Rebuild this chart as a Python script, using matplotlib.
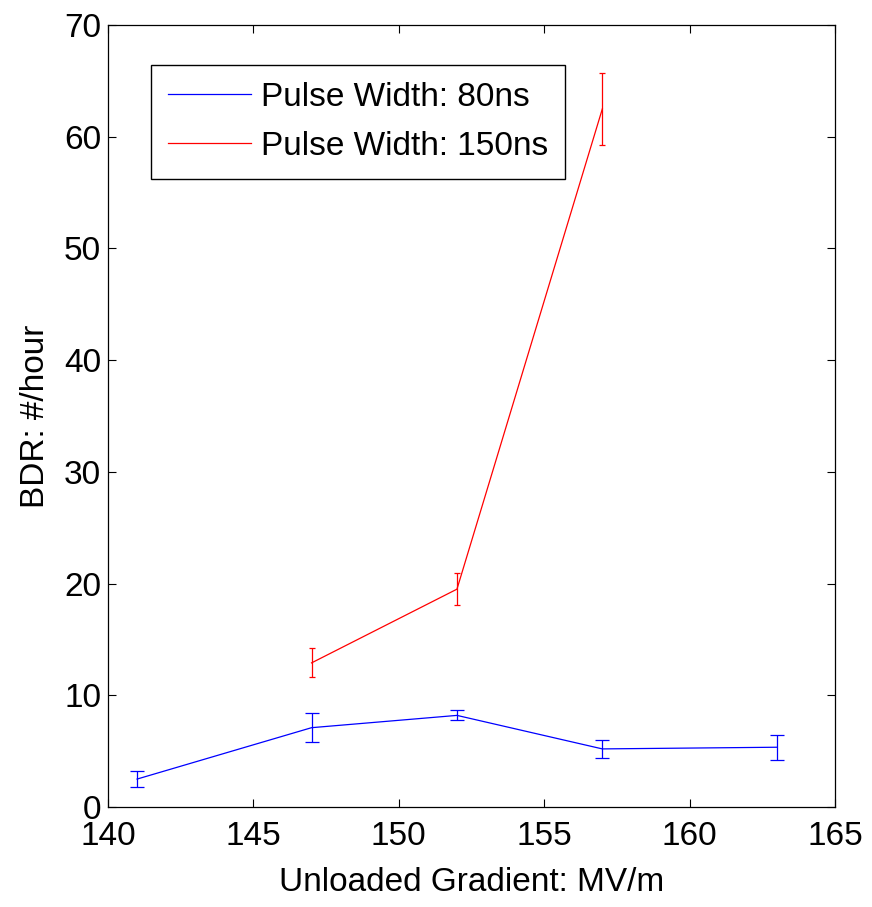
import matplotlib
matplotlib.use("Agg")
import matplotlib.pyplot as plt

# breakdown rate vs. unloaded gradient for two pulse widths
gradient_80 = [141, 147, 152, 157, 163]
bdr_80 = [2.5, 7.1, 8.2, 5.2, 5.35]
err_80 = [0.75, 1.3, 0.45, 0.8, 1.1]

gradient_150 = [147, 152, 157]
bdr_150 = [12.9, 19.5, 62.5]
err_150 = [1.3, 1.45, 3.2]

labels = ["Pulse Width: 80ns", "Pulse Width: 150ns"]

plt.rcParams["font.family"] = ["Liberation Sans", "DejaVu Sans"]
fs = 24

fig = plt.figure(figsize=(8.72, 9.07), dpi=100)
ax = fig.add_axes([108 / 872, 1 - 807 / 907, 727 / 872, 782 / 907])

ax.errorbar(gradient_80, bdr_80, yerr=err_80, color="blue", lw=0.9,
            elinewidth=0.9, capsize=4.7, capthick=0.9, label=labels[0])
ax.errorbar(gradient_150, bdr_150, yerr=err_150, color="red", lw=0.9,
            elinewidth=0.9, capsize=2.2, capthick=0.9, label=labels[1])

ax.set_xlim(140, 165)
ax.set_ylim(0, 70)
ax.set_xticks(range(140, 166, 5))
ax.set_yticks(range(0, 71, 10))
ax.tick_params(direction="in", length=6, width=0.8, top=True, right=True,
               labelsize=fs)
ax.tick_params(axis="x", pad=10)
ax.tick_params(axis="y", pad=5)
for sp in ax.spines.values():
    sp.set_linewidth(0.9)

ax.set_xlabel("Unloaded Gradient: MV/m", fontsize=fs, labelpad=11)
ax.set_ylabel("BDR: #/hour", fontsize=fs, labelpad=9)

# legend with line handles only (no error-bar glyphs)
h, l = ax.get_legend_handles_labels()
h = [hh[0] for hh in h]
leg = ax.legend(h, l, loc="upper left", bbox_to_anchor=(151 / 872, 1 - 65 / 907),
                bbox_transform=fig.transFigure, borderaxespad=0, fontsize=fs,
                fancybox=False, framealpha=1, edgecolor="black",
                handlelength=2.5, handletextpad=0.3, labelspacing=0.55,
                borderpad=0.5)
leg.get_frame().set_linewidth(1.0)

fig.savefig("out.png", dpi=100)
